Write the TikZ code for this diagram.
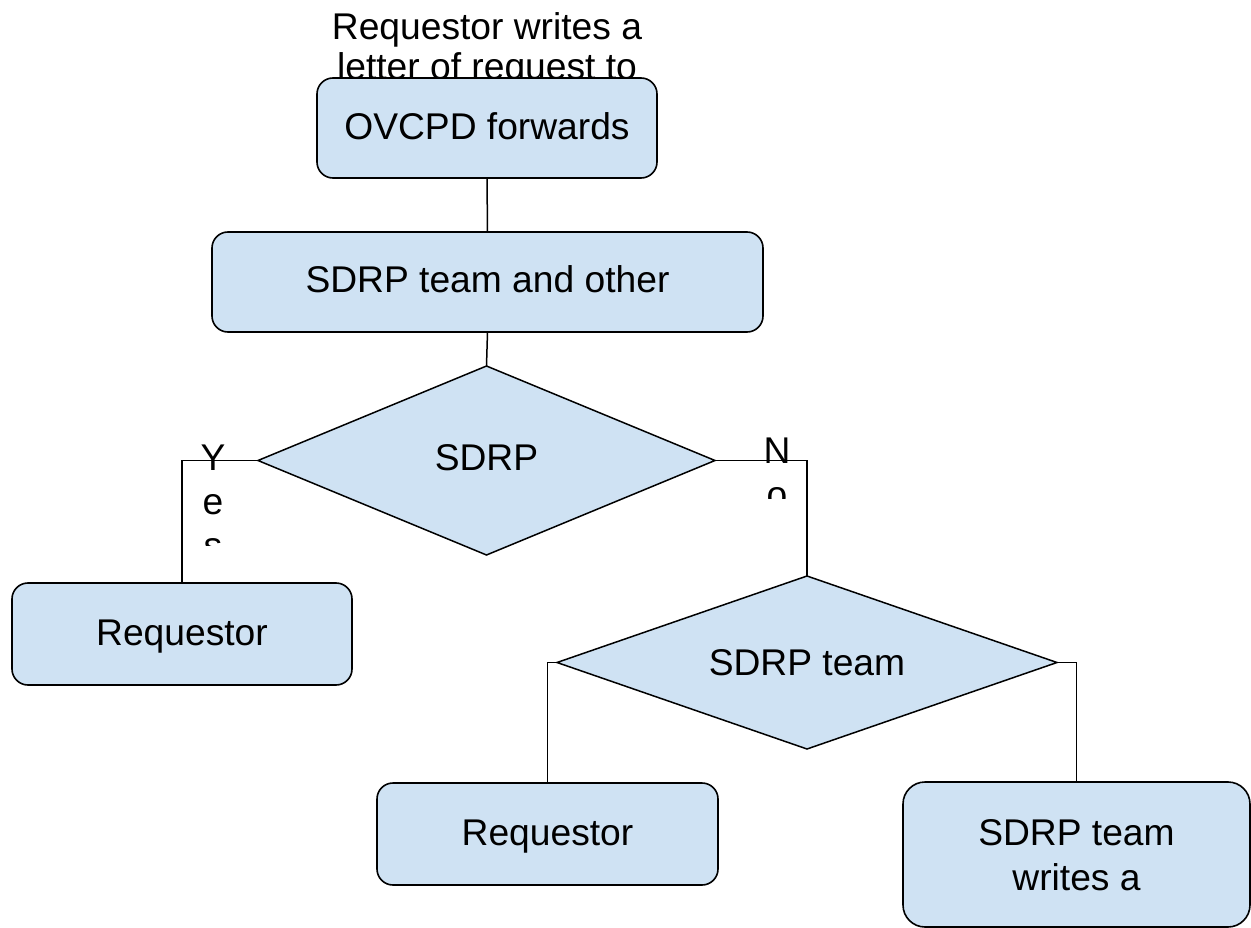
\documentclass[tikz,border=0pt]{standalone}
\usepackage{fontspec}
\setmainfont{Liberation Sans}
\usetikzlibrary{shapes.geometric}
\definecolor{boxfill}{HTML}{CFE2F3}
\begin{document}
\begin{tikzpicture}[x=1pt,y=-1pt,
 box/.style={draw=black, fill=boxfill, line width=1.6pt, rounded corners=16pt, rectangle, inner sep=0pt, outer sep=0pt},
 dia/.style={draw=black, fill=boxfill, line width=1.5pt, diamond, inner sep=0pt, outer sep=0pt},
 conn/.style={draw=black, line width=1.5pt},
 txt/.style={font=\fontsize{37.2}{43}\selectfont, anchor=base, inner sep=0pt},
]
\useasboundingbox (0,0) rectangle (1251,928);
% top text (partly hidden by the first box)
\node[txt] (t1) at (487,40) {Requestor writes a};
\node[txt] (t2) at (487,80) {letter of request to};
% boxes
\node[box, minimum width=340pt, minimum height=100pt] (b1) at (487,128) {};
\node[box, minimum width=551pt, minimum height=100pt] (b2) at (487.5,282) {};
\node[dia, minimum width=457pt, minimum height=189pt] (d1) at (486.5,460.5) {};
\node[box, minimum width=340pt, minimum height=102pt] (b3) at (182,634) {};
\node[dia, minimum width=500pt, minimum height=173pt] (d2) at (807,662.5) {};
\node[box, minimum width=341pt, minimum height=102pt] (b4) at (547.5,834) {};
\node[box, rounded corners=22pt, minimum width=347pt, minimum height=145pt] (b5) at (1076.5,854.5) {};
% connectors
\draw[conn] (b1.south) -- (b2.north);
\draw[conn] (b2.south) -- (d1.north);
\draw[conn] (d1.west) -| (b3.north);
\draw[conn] (d1.east) -| (d2.north);
\draw[conn] (d2.west) -| (b4.north);
\draw[conn] (d2.east) -| (b5.north);
% texts
\node[txt] (x1) at (487,140) {OVCPD forwards};
\node[txt] (x2) at (487.5,293) {SDRP team and other};
\node[txt] (x3) at (486.5,470) {SDRP};
\node[txt] (x4) at (182,645) {Requestor};
\node[txt] (x5) at (807,675) {SDRP team};
\node[txt] (x6) at (547.5,845) {Requestor};
\node[txt] (x7) at (1076.5,845) {SDRP team};
\node[txt] (x8) at (1076.5,890) {writes a};
% Yes / No labels (clipped)
\begin{scope}
\clip (185,425) rectangle (245,545);
\node[txt] (y1) at (213,470) {Y};
\node[txt] (y2) at (213,514) {e};
\node[txt] (y3) at (213,558) {s};
\end{scope}
\begin{scope}
\clip (750,425) rectangle (805,498);
\node[txt] (n1) at (777,463) {N};
\node[txt] (n2) at (777,507) {o};
\end{scope}
\end{tikzpicture}
\end{document}
